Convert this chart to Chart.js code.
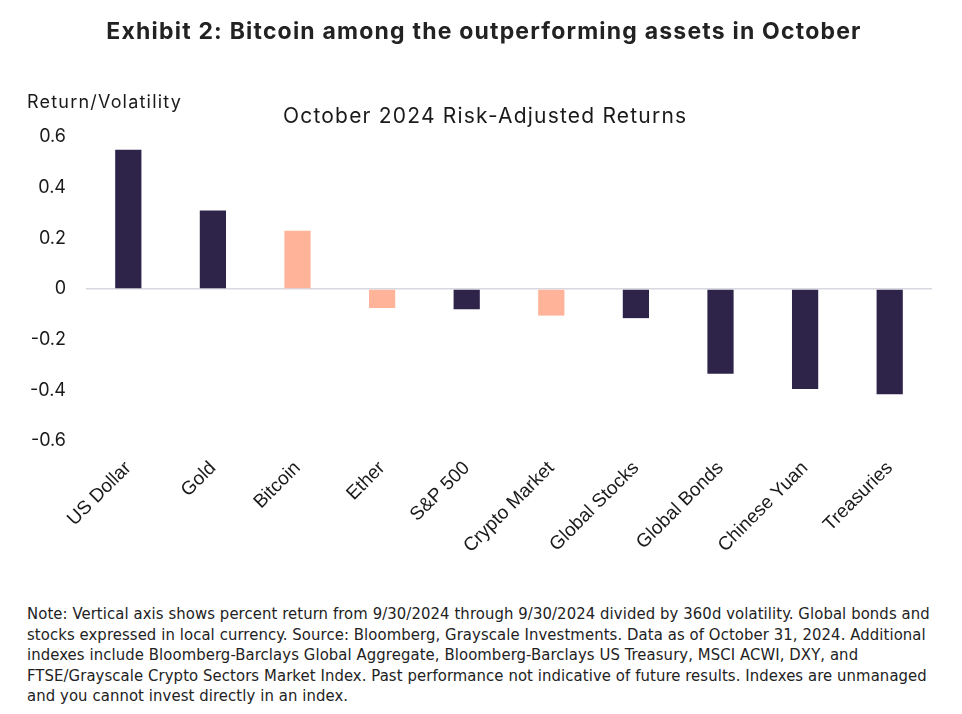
<!DOCTYPE html>
<html>
<head>
<meta charset="utf-8">
<script src="https://cdn.jsdelivr.net/npm/chart.js@4.4.1/dist/chart.umd.min.js"></script>
<style>
  html, body { margin: 0; padding: 0; background: #fff; }
  body { width: 962px; height: 714px; position: relative; overflow: hidden; font-family: Inter, "Noto Sans", sans-serif; color: #1a1a1a; }
  #title { position: absolute; top: 17px; left: 0; width: 968px; text-align: center; font-weight: 700; font-size: 23px; letter-spacing: 1.2px; color: #222; }
  #ylabel { position: absolute; top: 91px; left: 27px; font-size: 18px; letter-spacing: 1.2px; }
  #subtitle { position: absolute; top: 103px; left: 283px; font-size: 21px; letter-spacing: 1.2px; }
  #note { position: absolute; top: 604px; left: 27px; font-family: "Liberation Sans Narrow", "DejaVu Sans Condensed", sans-serif; font-size: 16.5px; letter-spacing: 0.1px; line-height: 20.5px; color: #222; }
  #wrap { position: absolute; left: 0; top: 0; width: 962px; height: 600px; }
</style>
</head>
<body>
<div id="wrap"><canvas id="chart"></canvas></div>
<div id="title">Exhibit 2: Bitcoin among the outperforming assets in October</div>
<div id="ylabel">Return/Volatility</div>
<div id="subtitle">October 2024 Risk-Adjusted Returns</div>
<div id="note">Note: Vertical axis shows percent return from 9/30/2024 through 9/30/2024 divided by 360d volatility. Global bonds and<br>stocks expressed in local currency. Source: Bloomberg, Grayscale Investments. Data as of October 31, 2024. Additional<br>indexes include Bloomberg-Barclays Global Aggregate, Bloomberg-Barclays US Treasury, MSCI ACWI, DXY, and<br>FTSE/Grayscale Crypto Sectors Market Index. Past performance not indicative of future results. Indexes are unmanaged<br>and you cannot invest directly in an index.</div>
<script>
const assets = ['US Dollar', 'Gold', 'Bitcoin', 'Ether', 'S&P 500', 'Crypto Market', 'Global Stocks', 'Global Bonds', 'Chinese Yuan', 'Treasuries'];
const riskAdjusted = [0.55, 0.31, 0.23, -0.075, -0.08, -0.105, -0.115, -0.335, -0.395, -0.415];
const isCrypto = [false, false, true, true, false, true, false, false, false, false];
const yTicks = [0.6, 0.4, 0.2, 0, -0.2, -0.4, -0.6];

const navy = '#2e2449';
const peach = '#ffb399';

const ctx = document.getElementById('chart').getContext('2d');
new Chart(ctx, {
    type: 'bar',
    data: {
        labels: assets,
        datasets: [{
            data: riskAdjusted,
            backgroundColor: isCrypto.map(c => c ? peach : navy),
            barPercentage: 0.31,
            categoryPercentage: 1
        }]
    },
    options: {
        responsive: true,
        maintainAspectRatio: false,
        animation: false,
        layout: { padding: { top: 137, right: 30, left: 0, bottom: 0 } },
        plugins: {
            legend: { display: false },
            tooltip: { enabled: false }
        },
        scales: {
            x: {
                grid: { display: false },
                border: { display: false },
                ticks: {
                    color: '#1a1a1a',
                    font: { family: '"Liberation Sans", Arial', size: 19 },
                    minRotation: 45,
                    maxRotation: 45,
                    padding: 8
                },
                afterFit: scale => { scale.height = 159; }
            },
            y: {
                min: -0.6,
                max: 0.6,
                afterBuildTicks: scale => { scale.ticks = yTicks.map(v => ({ value: v })); },
                grid: {
                    drawTicks: false,
                    color: c => (c.tick && c.tick.value === 0) ? '#d8d8e0' : 'rgba(0,0,0,0)',
                    lineWidth: 1.5
                },
                border: { display: false },
                ticks: {
                    color: '#1a1a1a',
                    font: { family: 'Inter', size: 18 },
                    padding: 20,
                    callback: v => v === 0 ? '0' : v.toFixed(1)
                },
                afterFit: scale => { scale.width = 86; }
            }
        }
    }
});
</script>
</body>
</html>
